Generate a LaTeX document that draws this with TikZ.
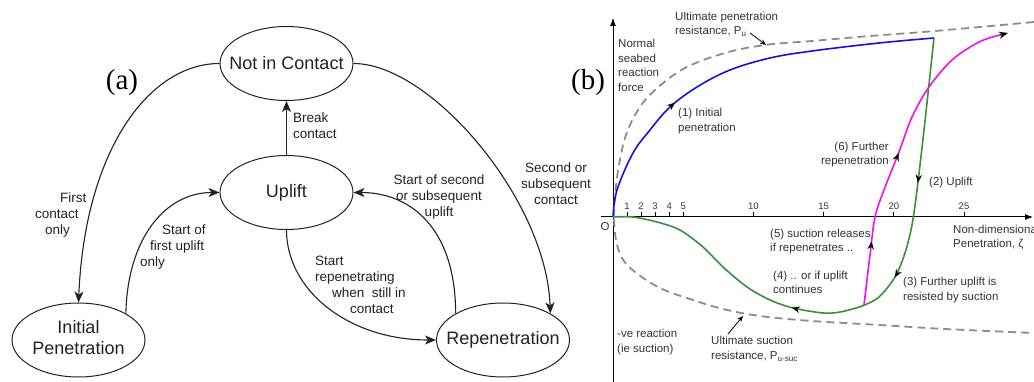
\documentclass[tikz,border=0pt]{standalone}
\usepackage{fontspec}
\setmainfont{Liberation Sans}
\newfontfamily\panelfont{Liberation Serif}
\usetikzlibrary{shapes.geometric,arrows.meta,decorations.markings}

\definecolor{inkgray}{HTML}{222222}
\definecolor{textgray}{HTML}{333333}
\definecolor{limitgray}{HTML}{8C8C8C}
\definecolor{penblue}{HTML}{1414D8}
\definecolor{upgreen}{HTML}{3A913A}
\definecolor{repmag}{HTML}{F010F0}

\begin{document}
\begin{tikzpicture}[x=1pt,y=-1pt,
  state/.style={ellipse, draw=inkgray, line width=1pt, minimum width=133pt,
    minimum height=74pt, inner sep=0pt, text=inkgray, font=\fontsize{18}{21}\selectfont},
  trans/.style={draw=inkgray, line width=1.1pt, -{Stealth[length=11pt,width=9pt,inset=3pt]}},
  tlabel/.style={inner sep=0pt, font=\fontsize{13.5}{16}\selectfont, text=inkgray},
  panel/.style={inner sep=0pt, font=\panelfont\fontsize{29}{30}\selectfont},
  axis/.style={draw=black, line width=1pt, -{Latex[length=8pt,width=6pt]}},
  limit/.style={draw=limitgray, line width=1.8pt, dash pattern=on 8pt off 5pt},
  blabel/.style={inner sep=0pt, font=\fontsize{11.5}{14.5}\selectfont, text=textgray, align=left},
  ticklabel/.style={inner sep=0pt, font=\fontsize{9.5}{11}\selectfont, text=textgray},
  pointer/.style={draw=black, line width=0.8pt, -{Stealth[length=6pt,width=5pt]}},
  curve/.style={line width=1.6pt},
]
\fill[white] (0,0) rectangle (1034,382);
\useasboundingbox (0,0) rectangle (1034,382);

% ---------------- (a) contact state diagram ----------------
\node[panel] (pa) at (122,83) {(a)};

\node[state] (nic) at (286.5,63.5) {\makebox[0pt]{Not in Contact}};
\node[state] (up)  at (286.5,192.5) {\makebox[0pt]{Uplift}};
\node[state] (ip)  at (78.5,340) {\makebox[0pt]{\begin{tabular}{@{}c@{}}Initial\\Penetration\end{tabular}}};
\node[state] (rep) at (503,340) {\makebox[0pt]{Repenetration}};

\draw[trans] (nic.west) .. controls +(-70,0) and +(6.5,-153) .. (ip.north);
\draw[trans] (ip.north east) .. controls +(1.5,-74) and +(-55,0) .. (up.west);
\draw[trans] (up.south) .. controls +(0,60) and +(-88,0) .. (rep.west);
\draw[trans] (rep.north west) .. controls +(0,-84) and +(58,0) .. (up.east);
\draw[trans] (nic.east) .. controls +(77,0) and +(-4,-114) .. (rep.north east);
\draw[trans] (up.north) -- (nic.south);

\node[tlabel, anchor=west, align=left] (lbreak) at (293,125.5) {Break\\contact};
\node[tlabel, anchor=west, align=left] (lfirst) at (35,215)
  {\hspace*{25pt}First\\contact\\\hspace*{10pt}only};
\node[tlabel, anchor=west, align=left] (lfirstup) at (140,247.5)
  {\hspace*{22pt}Start of\\\hspace*{10pt}first uplift\\only};
\node[tlabel, anchor=west, align=left] (lrepen) at (315,284.5)
  {Start\\repenetrating\\\hspace*{17pt}when\ \ still in\\\hspace*{35pt}contact};
\node[tlabel, align=center] (lsecup) at (439,197) {Start of second\\or subsequent\\uplift};
\node[tlabel, align=center] (lseccon) at (556,184) {Second or\\subsequent\\contact};

% ---------------- (b) seabed reaction response ----------------
\node[panel] (pb) at (588,83) {(b)};

\coordinate (O) at (613,217);
\coordinate (ybot) at (613,382);
\coordinate (ytop) at (613,18);
\coordinate (xleft) at (601,217);
\coordinate (xright) at (1033,217);
\draw[axis] (ybot) -- (ytop);
\draw[axis] (xleft) -- (xright);
\node[ticklabel] (lO) at (605,227) {\fontsize{11.5}{13}\selectfont O};

\foreach \z in {1,2,3,4,5,10,15,20,25} {
  \draw[line width=0.7pt] ({613+\z*14.04},217) -- ({613+\z*14.04},212);
  \node[ticklabel] (t\z) at ({613+\z*14.04},206.5) {\z};
}

% ultimate penetration and suction limits
\draw[limit] plot[smooth, tension=0.6] coordinates {
  (614,217) (615,195) (619,165) (626,135) (638,110) (655,90) (685,68)
  (725,53) (765,45) (812,41) (870,36) (935,31) (1034,22)};
\draw[limit] plot[smooth, tension=0.6] coordinates {
  (614,219) (616,240) (622,258) (635,272) (660,288) (690,299) (723,309)
  (760,316) (812,321) (880,325) (945,329) (1034,333)};

% (1) initial penetration
\draw[curve, draw=penblue, postaction={decorate}, decoration={markings,
    mark=at position 0.33 with {\arrow[black]{Stealth[length=8pt,width=6.5pt]}}}]
  plot[smooth, tension=0.6] coordinates {
  (613,217) (617,190) (633,153) (650,130) (670,107) (697,87) (730,70)
  (770,58) (812,51) (879,43) (934,38)};

% (2)-(4) uplift and suction
\draw[curve, draw=upgreen, postaction={decorate}, decoration={markings,
    mark=at position 0.257 with {\arrow[black]{Stealth[length=8pt,width=6.5pt]}},
    mark=at position 0.43 with {\arrow[black]{Stealth[length=8pt,width=6.5pt]}},
    mark=at position 0.635 with {\arrow[black]{Stealth[length=8pt,width=6.5pt]}}}]
  plot[smooth, tension=0.5] coordinates {
  (934,38) (924,130) (917,190) (912,225) (905,253) (895,277) (879,297)
  (862,306) (840,312) (823,313) (793,308) (770,300) (747,287) (723,267)
  (703,247) (680,230) (657,222) (633,217) (613,217)};

% (5)-(6) repenetration
\draw[curve, draw=repmag, postaction={decorate}, decoration={markings,
    mark=at position 0.2 with {\arrow[black]{Stealth[length=8pt,width=6.5pt]}},
    mark=at position 0.49 with {\arrow[black]{Stealth[length=8pt,width=6.5pt]}}}]
  plot[smooth, tension=0.55] coordinates {
  (864,305) (870,255) (875,217) (884,190) (899,152) (912,117) (929,87)
  (952,60) (979,42) (1000,35)};
\coordinate (magEnd) at (1000,35);
\coordinate (magTip) at (1008,33);
\draw[black, line width=1.2pt, -{Stealth[length=9pt,width=7pt]}] (magEnd) -- (magTip);

% annotations
\node[blabel, anchor=west] (lnormal) at (618,65.5) {Normal\\seabed\\reaction\\force};
\node[blabel, anchor=west] (lpu) at (675,24.5) {Ultimate penetration\\resistance, P\textsubscript{u}};
\coordinate (puTail) at (750,33);
\coordinate (puHead) at (766,45);
\draw[pointer] (puTail) -- (puHead);
\node[blabel, anchor=west] (l1) at (678,121) {(1) Initial\\penetration};
\node[blabel, anchor=east, align=right] (l6) at (889,154.5) {(6) Further\\repenetration};
\node[blabel, anchor=west] (l2) at (929,183) {(2) Uplift};
\node[blabel, anchor=west] (l5) at (770,241.5) {(5) suction releases\\if repenetrates ..};
\node[blabel, anchor=west] (l4) at (773,282.5) {(4) .. or if uplift\\continues};
\node[blabel, anchor=west] (l3) at (903,290) {(3) Further uplift is\\resisted by suction};
\node[blabel, anchor=west] (lzeta) at (953,237.5) {Non-dimensional\\Penetration, ζ};
\node[blabel, anchor=west] (lneg) at (617,342) {-ve reaction\\(ie suction)};
\node[blabel, anchor=west] (lsuc) at (711,349) {Ultimate suction\\resistance, P\textsubscript{u-suc}};
\coordinate (sucTail) at (728,334);
\coordinate (sucHead) at (743,316);
\draw[pointer] (sucTail) -- (sucHead);
\end{tikzpicture}
\end{document}
